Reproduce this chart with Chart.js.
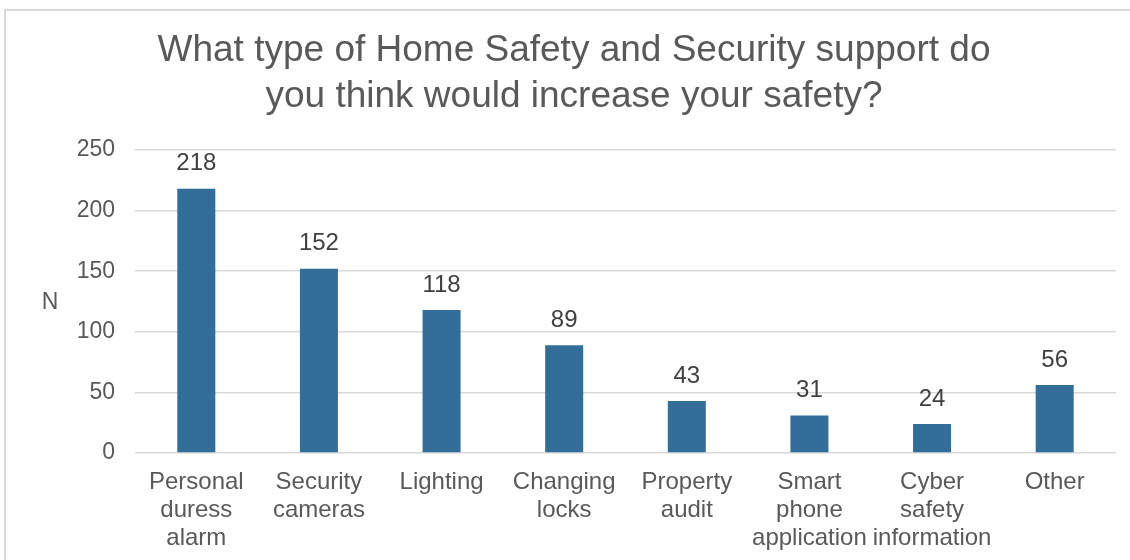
<!DOCTYPE html>
<html>
<head>
<meta charset="utf-8">
<script src="https://cdn.jsdelivr.net/npm/chart.js@4/dist/chart.umd.min.js"></script>
<style>
  body { margin: 0; background: #fff; overflow: hidden; }
  #frame { position: absolute; left: 4px; top: 9px; width: 2000px; height: 2000px; border: 2px solid #d9d9d9; }
  #chart { position: absolute; left: 0; top: 0; }
</style>
</head>
<body>
<div id="frame"></div>
<canvas id="chart" width="1130" height="560"></canvas>
<script>
// ---- data ----
const categories = [
    ["Personal", "duress", "alarm"],
    ["Security", "cameras"],
    "Lighting",
    ["Changing", "locks"],
    ["Property", "audit"],
    ["Smart", "phone", "application"],
    ["Cyber", "safety", "information"],
    "Other"
];
const counts = [218, 152, 118, 89, 43, 31, 24, 56];
const yTicks = [0, 50, 100, 150, 200, 250];

const titleLines = [
    "What type of Home Safety and Security support do",
    "you think would increase your safety?"
];
const yLabel = "N";

const FONT = "'Liberation Sans', Arial, sans-serif";

// value labels above the bars + the horizontal "N" axis label
const extrasPlugin = {
    id: "extras",
    afterDatasetsDraw(chart) {
        const ctx = chart.ctx;
        const meta = chart.getDatasetMeta(0);
        ctx.save();
        ctx.font = "24px " + FONT;
        ctx.fillStyle = "#404040";
        ctx.textAlign = "center";
        ctx.textBaseline = "middle";
        meta.data.forEach((bar, i) => {
            ctx.fillText(String(counts[i]), bar.x, bar.y - 25);
        });

        const area = chart.chartArea;
        ctx.font = "23px " + FONT;
        ctx.fillStyle = "#595959";
        ctx.fillText(yLabel, 50, (area.top + area.bottom) / 2 + 1);
        ctx.restore();
    }
};

new Chart(document.getElementById("chart"), {
    type: "bar",
    data: {
        labels: categories,
        datasets: [{
            data: counts,
            backgroundColor: "#336e9b",
            categoryPercentage: 1,
            barPercentage: 0.31
        }]
    },
    options: {
        responsive: false,
        animation: false,
        layout: { padding: { left: 32, right: 14, top: 0, bottom: 0 } },
        plugins: {
            legend: { display: false },
            tooltip: { enabled: false },
            title: {
                display: true,
                text: titleLines,
                color: "#595959",
                font: { family: FONT, size: 37, weight: "normal", lineHeight: 1.243 },
                padding: { top: 28, bottom: 30 }
            }
        },
        scales: {
            x: {
                grid: { display: false, drawTicks: false },
                border: { display: false },
                ticks: {
                    color: "#595959",
                    font: { family: FONT, size: 24, lineHeight: 1.15 },
                    padding: 16,
                    maxRotation: 0,
                    autoSkip: false
                },
                afterFit(scale) { scale.height = 107; }
            },
            y: {
                min: 0,
                max: 250,
                afterBuildTicks(scale) { scale.ticks = yTicks.map(v => ({ value: v })); },
                grid: { color: "#d9d9d9", lineWidth: 1.5, drawTicks: false },
                border: { display: false },
                ticks: {
                    color: "#595959",
                    font: { family: FONT, size: 23 },
                    padding: 20
                },
                afterFit(scale) { scale.width = 103; }
            }
        }
    },
    plugins: [extrasPlugin]
});
</script>
</body>
</html>
